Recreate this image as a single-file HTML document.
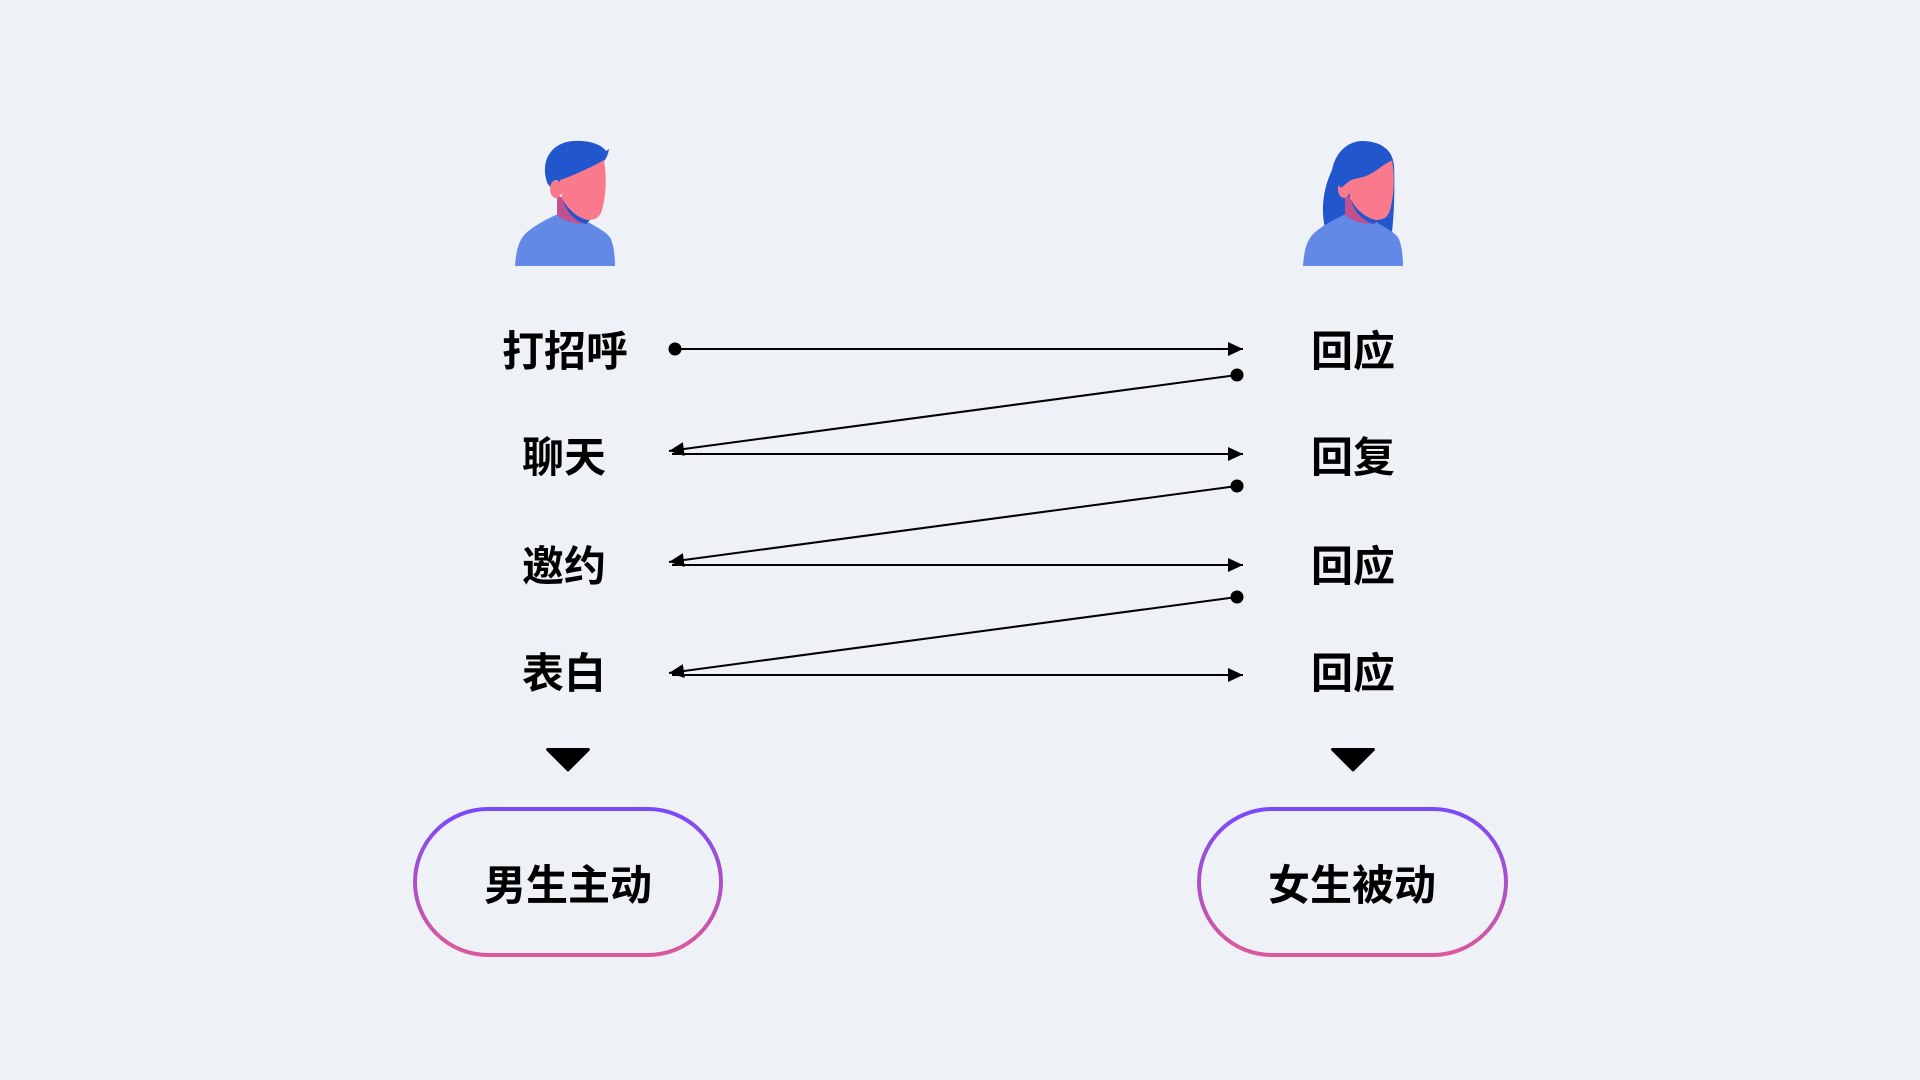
<!DOCTYPE html>
<html>
<head>
<meta charset="utf-8">
<style>
  html, body { margin: 0; padding: 0; }
  body { width: 1920px; height: 1080px; background: #EEF1F6; overflow: hidden; }
  svg { display: block; }
  text { font-family: "Liberation Sans", "Noto Sans CJK SC", "WenQuanYi Zen Hei", sans-serif; font-weight: 700; font-size: 42px; fill: #000; }
</style>
</head>
<body>
<svg width="1920" height="1080" viewBox="0 0 1920 1080" xmlns="http://www.w3.org/2000/svg">
  <defs>
    <linearGradient id="pg" x1="0" y1="0" x2="0" y2="1">
      <stop offset="0" stop-color="#7A49F8"/>
      <stop offset="1" stop-color="#DC589B"/>
    </linearGradient>
    <marker id="ah" markerWidth="16" markerHeight="14" refX="15" refY="7" orient="auto" markerUnits="userSpaceOnUse">
      <path d="M0,0 L15,7 L0,14 Z" fill="#000"/>
    </marker>
    <g id="person">
      <!-- body -->
      <path d="M515,266 C516,252 518,242 525,234 C535,225 547,219 558,214 C568,220 578,224 588,222 C598,228 607,232 611,239 C614,247 615,257 615,266 Z" fill="#6289E6"/>
      <!-- neck -->
      <path d="M557,196 L557,215 C565,222 577,225 588,223 L589,204 Z" fill="#C1508F"/>
      <!-- jaw shadow -->
      <path d="M563,200 C570,210 578,217 590,220 L586,224 C576,222 566,212 563,200 Z" fill="#2156CC"/>
      <!-- face -->
      <path d="M560,180 C572,176 590,168 604,160 C607,178 606,196 602,210 C600,217 596,220 588,220 C578,218 568,210 562,198 Z" fill="#F97A8D"/>
      <!-- ear -->
      <ellipse cx="556" cy="189" rx="6" ry="9" fill="#F97A8D"/>
    </g>
  </defs>

  <!-- Male avatar -->
  <path d="M547,182 C540,160 552,142 574,141 C590,140 602,145 606,151 L609,149 C608,155 606,159 604,161 C594,164 588,172 578,176 C570,179 564,179 559,183 L553,189 C550,187 548,185 547,182 Z" fill="#2156CC"/>
  <use href="#person"/>

  <!-- Female avatar -->
  <path d="M1325,228 C1320,205 1325,185 1332,170 C1336,150 1350,141 1362,141 C1380,141 1392,150 1394,165 C1395,190 1394,215 1392,232 L1380,232 L1340,230 Z" fill="#2156CC"/>
  <use href="#person" transform="translate(788,0)"/>
  <path d="M1333,168 C1342,150 1352,142 1364,142 C1378,141 1390,148 1393,160 C1383,164 1376,172 1366,176 C1358,179 1352,178 1347,183 L1341,188 C1336,182 1333,175 1333,168 Z" fill="#2156CC"/>

  <!-- Left labels -->
  <text x="565" y="366" text-anchor="middle">打招呼</text>
  <text x="564" y="472" text-anchor="middle">聊天</text>
  <text x="564" y="581" text-anchor="middle">邀约</text>
  <text x="564" y="688" text-anchor="middle">表白</text>

  <!-- Right labels -->
  <text x="1353" y="366" text-anchor="middle">回应</text>
  <text x="1353" y="472" text-anchor="middle">回复</text>
  <text x="1353" y="581" text-anchor="middle">回应</text>
  <text x="1353" y="688" text-anchor="middle">回应</text>

  <!-- Connectors -->
  <g stroke="#000" stroke-width="2" fill="none">
    <line x1="675" y1="349" x2="1243" y2="349" marker-end="url(#ah)"/>
    <line x1="1237" y1="375" x2="669" y2="451" marker-end="url(#ah)"/>
    <line x1="672" y1="454" x2="1243" y2="454" marker-end="url(#ah)"/>
    <line x1="1237" y1="486" x2="669" y2="562" marker-end="url(#ah)"/>
    <line x1="672" y1="565" x2="1243" y2="565" marker-end="url(#ah)"/>
    <line x1="1237" y1="597" x2="669" y2="673" marker-end="url(#ah)"/>
    <line x1="672" y1="675" x2="1243" y2="675" marker-end="url(#ah)"/>
  </g>
  <g fill="#000">
    <circle cx="675" cy="349" r="6.5"/>
    <circle cx="1237" cy="375" r="6.5"/>
    <circle cx="1237" cy="486" r="6.5"/>
    <circle cx="1237" cy="597" r="6.5"/>
  </g>

  <!-- Down triangles -->
  <path d="M547,748 L589,748 Q591,749 589,751 L569,771 Q568,772 567,771 L547,751 Q545,749 547,748 Z" fill="#000"/>
  <path d="M1332,748 L1374,748 Q1376,749 1374,751 L1354,771 Q1353,772 1352,771 L1332,751 Q1330,749 1332,748 Z" fill="#000"/>

  <!-- Pills -->
  <rect x="415" y="809" width="306" height="146" rx="73" ry="73" fill="none" stroke="url(#pg)" stroke-width="4"/>
  <rect x="1199" y="809" width="307" height="146" rx="73" ry="73" fill="none" stroke="url(#pg)" stroke-width="4"/>
  <text x="568" y="900" text-anchor="middle">男生主动</text>
  <text x="1352" y="900" text-anchor="middle">女生被动</text>
</svg>
</body>
</html>
